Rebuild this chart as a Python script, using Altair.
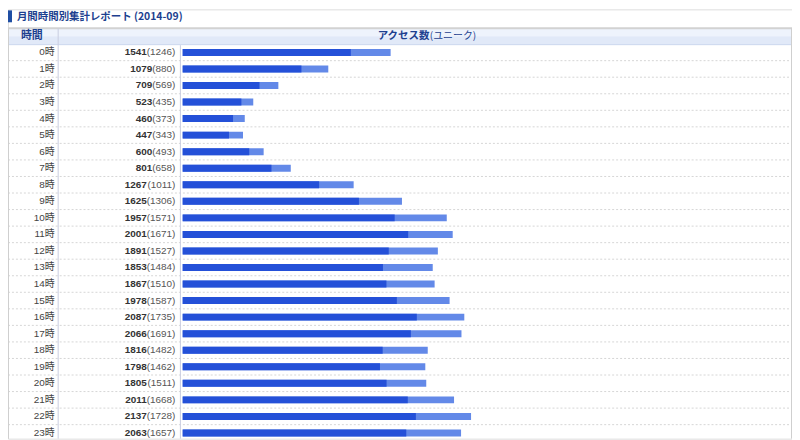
import altair as alt
import pandas as pd

hours = ["0時", "1時", "2時", "3時", "4時", "5時", "6時", "7時", "8時", "9時", "10時", "11時",
         "12時", "13時", "14時", "15時", "16時", "17時", "18時", "19時", "20時", "21時", "22時", "23時"]
totals = [1541, 1079, 709, 523, 460, 447, 600, 801, 1267, 1625, 1957, 2001,
          1891, 1853, 1867, 1978, 2087, 2066, 1816, 1798, 1805, 2011, 2137, 2063]
uniques = [1246, 880, 569, 435, 373, 343, 493, 658, 1011, 1306, 1571, 1671,
           1527, 1484, 1510, 1587, 1735, 1691, 1482, 1462, 1511, 1668, 1728, 1657]

title_text = "月間時間別集計レポート (2014-09)"
col1_header = "時間"
col2_header_bold = "アクセス数"
col2_header_sub = "(ユニーク)"

W, H = 789, 432
FONT = "Liberation Sans, Noto Sans CJK JP, sans-serif"
CJK = "Noto Sans CJK JP, Liberation Sans, sans-serif"
NAVY = "#1d3f8f"

df = pd.DataFrame({"hour": hours, "total": totals, "unique": uniques})
base = alt.Chart(df)

yscale = alt.Scale(type="band", domain=hours, range=[35, 35 + 24 * 16.65],
                   paddingInner=0, paddingOuter=0)
y_enc = alt.Y("hour:N", sort=hours, scale=yscale, axis=None)
xscale = alt.Scale(domain=[0, 2000], range=[175.8, 447.4])

deco = alt.Chart(pd.DataFrame({"k": [0]}))

# header & table chrome
hdr_top = deco.mark_rect(color="#eef3fc").encode(
    x=alt.value(0), x2=alt.value(W), y=alt.value(19), y2=alt.value(27))
hdr_bot = deco.mark_rect(color="#e1e9f8").encode(
    x=alt.value(0), x2=alt.value(W), y=alt.value(27), y2=alt.value(35))
hdr_topline = deco.mark_rule(color="#d2d2d2", strokeWidth=2).encode(
    x=alt.value(0), x2=alt.value(W), y=alt.value(19))
hdr_botline = deco.mark_rule(color="#c9d5ee", strokeWidth=1).encode(
    x=alt.value(0), x2=alt.value(W), y=alt.value(35.5))

seps = base.mark_rule(color="#d6d6d6", strokeDash=[2, 2], strokeWidth=1, yOffset=8.3).encode(
    y=y_enc, x=alt.value(0), x2=alt.value(W))

left_border = deco.mark_rule(color="#cfcfcf").encode(
    x=alt.value(0.5), y=alt.value(19), y2=alt.value(H))
right_border = deco.mark_rule(color="#cfcfcf").encode(
    x=alt.value(W - 0.5), y=alt.value(19), y2=alt.value(H))
div1 = deco.mark_rule(color="#c9cde0").encode(
    x=alt.value(50.5), y=alt.value(19), y2=alt.value(H))
div2 = deco.mark_rule(color="#c9cde0").encode(
    x=alt.value(173.5), y=alt.value(36), y2=alt.value(H))

title_bar = deco.mark_rect(color="#1f4ea3").encode(
    x=alt.value(0), x2=alt.value(4), y=alt.value(1), y2=alt.value(13))
title = deco.mark_text(align="left", baseline="middle", fontSize=10.5, fontWeight="bold",
                       color=NAVY, font=CJK).encode(
    x=alt.value(9), y=alt.value(7.5), text=alt.value(title_text))

h1 = deco.mark_text(align="center", baseline="middle", fontSize=11, fontWeight="bold",
                    color=NAVY, font=CJK).encode(
    x=alt.value(24), y=alt.value(27), text=alt.value(col1_header))
h2a = deco.mark_text(align="right", baseline="middle", fontSize=10.5, fontWeight="bold",
                     color=NAVY, font=CJK).encode(
    x=alt.value(424), y=alt.value(27), text=alt.value(col2_header_bold))
h2b = deco.mark_text(align="left", baseline="middle", fontSize=10, color=NAVY, font=CJK).encode(
    x=alt.value(424.5), y=alt.value(27), text=alt.value(col2_header_sub))

# data marks
bars_total = base.mark_bar(size=7, color="#6389e8").encode(
    x=alt.X("total:Q", scale=xscale, axis=None), y=y_enc)
bars_unique = base.mark_bar(size=7, color="#2450d8").encode(
    x=alt.X("unique:Q", scale=xscale, axis=None), y=y_enc)

hour_lbl = base.mark_text(align="right", baseline="middle", fontSize=10, color="#444",
                          font=FONT).encode(
    x=alt.value(47), y=y_enc, text="hour:N")
paren_lbl = base.transform_calculate(p="'(' + datum.unique + ')'").mark_text(
    align="right", baseline="middle", fontSize=10, color="#555", font=FONT).encode(
    x=alt.value(168.5), y=y_enc, text="p:N")
bold_lbl = base.transform_calculate(
    px="168.5 - (length(toString(datum.unique)) * 5.56 + 6.67)").mark_text(
    align="right", baseline="middle", fontSize=10, fontWeight="bold", color="#333",
    font=FONT).encode(
    x=alt.X("px:Q", scale=None, axis=None), y=y_enc,
    text=alt.Text("total:Q", format="d"))

chart = alt.layer(
    hdr_top, hdr_bot, seps, hdr_topline, hdr_botline,
    left_border, right_border, div1, div2,
    bars_total, bars_unique, hour_lbl, paren_lbl, bold_lbl,
    title_bar, title, h1, h2a, h2b,
).resolve_scale(x="independent").properties(
    width=W, height=H, autosize=alt.AutoSizeParams(type="none"), padding=0,
).configure_view(stroke=None).configure(background="white")

chart.save("out.html", embed_options={"renderer": "svg", "actions": False})
